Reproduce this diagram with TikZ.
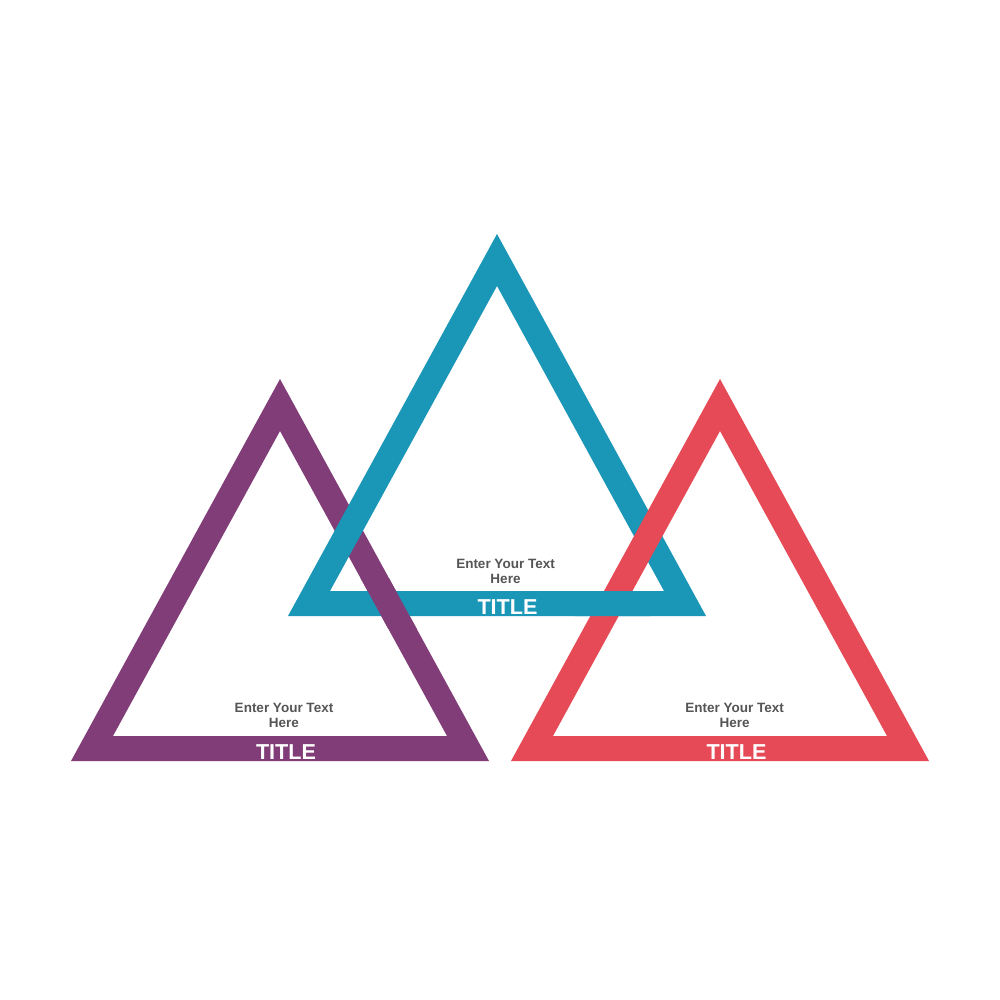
\documentclass[tikz,border=0pt]{standalone}
\usepackage{fontspec}
\setmainfont{Liberation Sans}
\definecolor{cpurple}{HTML}{803D77}
\definecolor{cblue}{HTML}{1A96B7}
\definecolor{cred}{HTML}{E64A56}
\definecolor{ctext}{HTML}{555555}
\tikzset{
  ring/.style={even odd rule, draw=none},
  bodytext/.style={inner sep=0pt, align=center, text=ctext, font=\bfseries\fontsize{13.5}{15.5}\selectfont},
  titletext/.style={inner sep=0pt, anchor=base, text=white, font=\bfseries\fontsize{21.6}{24}\selectfont},
}
\newcommand{\purpletri}{(280,379) -- (71,761) -- (489,761) -- cycle (280,431) -- (113,736) -- (447,736) -- cycle}
\newcommand{\bluetri}{(497,234) -- (288,616) -- (706,616) -- cycle (497,286) -- (330,591) -- (664,591) -- cycle}
\newcommand{\redtri}{(720,379) -- (511,761) -- (929,761) -- cycle (720,431) -- (553,736) -- (887,736) -- cycle}
\begin{document}
\begin{tikzpicture}[x=1pt,y=-1pt]
\useasboundingbox (0,0) rectangle (1000,1000);
\fill[white] (0,0) rectangle (1000,1000);
% triangles
\fill[ring, cpurple] \purpletri;
\fill[ring, cblue] \bluetri;
\fill[ring, cred] \redtri;
% interweave: purple over blue at lower-left crossing
\begin{scope}
  \clip (350,578) rectangle (425,628);
  \fill[ring, cpurple] \purpletri;
\end{scope}
% interweave: blue over red at lower-right crossing
\begin{scope}
  \clip (575,578) rectangle (650,628);
  \fill[ring, cblue] \bluetri;
\end{scope}
% texts
\node[bodytext] (ptext) at (284,715.3) {Enter Your Text\\Here};
\node[titletext] (ptitle) at (286,759.8) {TITLE};
\node[bodytext] (btext) at (505.5,571.3) {Enter Your Text\\Here};
\node[titletext] (btitle) at (507.5,614.8) {TITLE};
\node[bodytext] (rtext) at (734.5,715.3) {Enter Your Text\\Here};
\node[titletext] (rtitle) at (736.5,759.8) {TITLE};
\end{tikzpicture}
\end{document}
